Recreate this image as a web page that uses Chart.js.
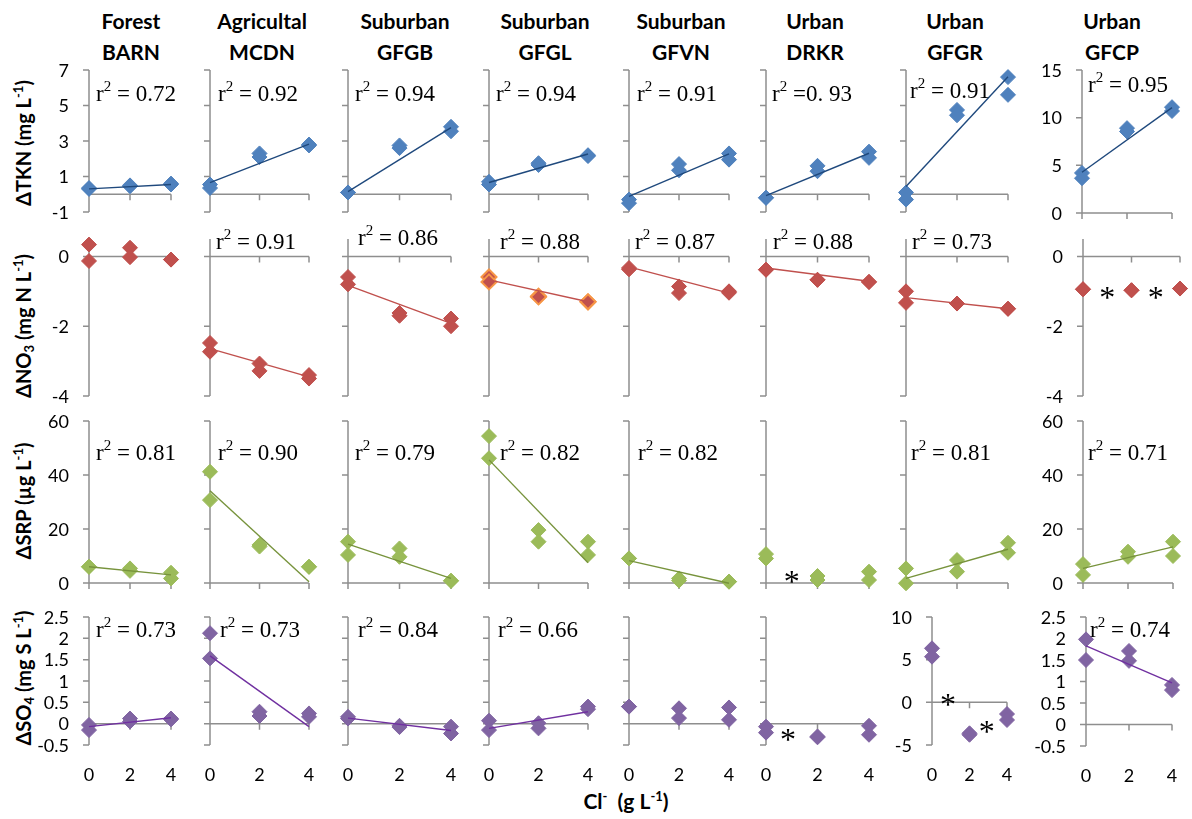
<!DOCTYPE html>
<html>
<head>
<meta charset="utf-8">
<script src="https://cdn.jsdelivr.net/npm/chart.js"></script>
<style>
  body { margin: 0; background: #fff; }
  #wrap { position: relative; width: 1192px; height: 819px; overflow: hidden; background: #fff; font-family: Lato, "Open Sans", sans-serif; }
  #wrap canvas { position: absolute; }
  .ct { position: absolute; width: 150px; margin-left: -75px; text-align: center; font: bold 21px Lato, sans-serif; line-height: 31px; top: 5px; color: #000; }
  .yt { position: absolute; white-space: nowrap; font: bold 20px Lato, sans-serif; color: #000; transform: translate(-50%, -50%) rotate(-90deg); }
  .xt { position: absolute; white-space: nowrap; font: bold 21px Lato, sans-serif; color: #000; transform: translate(-50%, -50%); }
  sup, sub { font-size: 13px; line-height: 0; }
  sup { vertical-align: 8px; }
  sub { vertical-align: -3px; }
</style>
</head>
<body>
<div id="wrap"></div>
<script>
// ---- data ----
const landUse = ['Forest', 'Agricultal', 'Suburban', 'Suburban', 'Suburban', 'Urban', 'Urban', 'Urban'];
const sites = ['BARN', 'MCDN', 'GFGB', 'GFGL', 'GFVN', 'DRKR', 'GFGR', 'GFCP'];
const doseX = [0, 0, 2, 2, 4, 4];   // Cl- dose for each replicate
const xTicks = [0, 2, 4];
const fitX = [0, 4];

// ΔTKN (mg L-1)
const tkn = [
  [0.3, 0.35, 0.45, 0.5, 0.55, 0.6],
  [0.55, 0.35, 2.3, 2.1, 2.8, 2.75],
  [0.1, 0.1, 2.75, 2.6, 3.8, 3.55],
  [0.55, 0.7, 1.75, 1.65, 2.2, 2.15],
  [-0.3, -0.5, 1.7, 1.35, 2.3, 1.95],
  [-0.2, -0.2, 1.6, 1.3, 2.4, 2.05],
  [0.1, -0.3, 4.75, 4.45, 6.6, 5.6],
  [4.2, 3.65, 8.9, 8.55, 11.1, 10.7]
];
const tknFit = [[0.3, 0.55], [0.65, 2.82], [0.15, 3.75], [0.66, 2.27], [-0.12, 2.28], [-0.08, 2.31], [0.44, 6.62], [4.27, 11.05]];
const tknR2 = [' = 0.72', ' = 0.92', ' = 0.94', ' = 0.94', ' = 0.91', ' =0. 93', ' = 0.91', ' = 0.95'];

// ΔNO3 (mg N L-1)
const no3 = [
  [0.34, -0.13, 0.25, -0.02, -0.09, -0.09],
  [-2.48, -2.73, -3.07, -3.28, -3.4, -3.5],
  [-0.59, -0.8, -1.62, -1.7, -1.78, -2.0],
  [-0.59, -0.73, -1.14, -1.16, -1.3, -1.3],
  [-0.33, -0.37, -0.86, -1.05, -1.0, -1.04],
  [-0.38, -0.38, -0.67, -0.67, -0.73, -0.73],
  [-1.0, -1.33, -1.35, -1.35, -1.5, -1.5],
  [-0.94, -0.94, -0.97, -0.97, -0.92, -0.92]
];
const no3Fit = [null, [-2.64, -3.45], [-0.83, -1.92], [-0.67, -1.3], [-0.3, -1.05], [-0.33, -0.71], [-1.18, -1.5], null];
const no3R2 = [null, ' = 0.91', ' = 0.86', ' = 0.88', ' = 0.87', ' = 0.88', ' = 0.73', null];

// ΔSRP (µg L-1)
const srp = [
  [6.0, 6.0, 5.4, 4.5, 3.8, 1.7],
  [41.2, 30.7, 14.1, 13.5, 6.0, 6.0],
  [15.3, 10.4, 12.8, 9.7, 0.8, 0.8],
  [54.4, 46.2, 19.6, 15.3, 15.3, 10.4],
  [9.1, 9.1, 1.7, 0.9, 0.5, 0.5],
  [10.7, 9.1, 2.6, 1.1, 4.2, 1.1],
  [5.4, -0.1, 8.5, 4.2, 14.9, 11.2],
  [7.0, 3.0, 11.6, 9.7, 15.3, 10.0]
];
const srpFit = [[6.0, 3.0], [34.2, 0.5], [14.4, 1.7], [45.6, 7.5], [8.3, -0.1], null, [1.7, 12.5], [5.4, 13.4]];
const srpR2 = [' = 0.81', ' = 0.90', ' = 0.79', ' = 0.82', ' = 0.82', null, ' = 0.81', ' = 0.71'];

// ΔSO4 (mg S L-1)
const so4 = [
  [-0.03, -0.15, 0.12, 0.05, 0.12, 0.1],
  [2.12, 1.53, 0.28, 0.18, 0.24, 0.16],
  [0.16, 0.12, -0.05, -0.08, -0.07, -0.23],
  [0.07, -0.15, 0.01, -0.11, 0.4, 0.34],
  [0.4, 0.4, 0.36, 0.13, 0.38, 0.09],
  [-0.07, -0.21, -0.3, -0.32, -0.05, -0.26],
  [6.33, 5.35, -3.63, -3.8, -1.37, -2.07],
  [1.98, 1.5, 1.71, 1.48, 0.92, 0.8]
];
const so4Fit = [[-0.07, 0.14], [1.59, -0.07], [0.13, -0.16], [-0.11, 0.28], null, null, null, [1.83, 0.97]];
const so4R2 = [' = 0.73', ' = 0.73', ' = 0.84', ' = 0.66', null, null, null, ' = 0.74'];

// asterisk markers [row, col, x, y]
const stars = [[1, 7, 1, -1.0], [1, 7, 3, -1.0], [2, 5, 1, 3], [3, 5, 0.85, -0.22], [3, 6, 0.85, 0.47], [3, 6, 2.92, -2.66]];

// axis ranges and ticks
const tknTicks = [-1, 1, 3, 5, 7];
const tknTicksCP = [0, 5, 10, 15];
const no3Ticks = [-4, -2, 0];
const srpTicks = [0, 20, 40, 60];
const so4Ticks = [-0.5, 0, 0.5, 1, 1.5, 2, 2.5];
const so4TicksGR = [-5, 0, 5, 10];

// ---- layout / style ----
const AXIS = '#8e8e8e';
const colL = [89, 210, 348, 489, 629, 766, 906, 1082];
const colR = [171, 309, 451, 588, 729, 869, 1008, 1172];
const titleX = [131, 262, 405, 545, 681, 815, 955, 1112];
const rows = [
  { vals: tkn, fits: tknFit, r2: tknR2, fill: '#4F81BD', line: '#1F497D', T: 70, B: 212, min: -1, max: 7, ticks: tknTicks,
    r2Pos: [[96, 101], [218, 101], [355, 101], [496, 101], [637, 101], [772, 101], [910, 98], [1088, 92]] },
  { vals: no3, fits: no3Fit, r2: no3R2, fill: '#C0504D', line: '#C0504D', T: 238.5, B: 396, min: -4, max: 0.5, ticks: no3Ticks,
    r2Pos: [null, [216, 248], [358, 244], [500, 248], [635, 248], [773, 248], [912, 248], null] },
  { vals: srp, fits: srpFit, r2: srpR2, fill: '#9BBB59', line: '#77933C', T: 421, B: 583, min: 0, max: 60, ticks: srpTicks,
    r2Pos: [[96, 460], [218, 460], [355, 460], [500, 460], [638, 460], null, [911, 460], [1088, 460]] },
  { vals: so4, fits: so4Fit, r2: so4R2, fill: '#8064A2', line: '#7030A0', T: 617, B: 745, min: -0.5, max: 2.5, ticks: so4Ticks,
    r2Pos: [[96, 637], [220, 637], [358, 637], [498, 637], null, null, null, [1090, 637]] }
];

function panelSpec(r, c) {
  const row = rows[r];
  const s = { L: colL[c], R: colR[c], T: row.T, B: row.B, min: row.min, max: row.max, ticks: row.ticks,
              labels: c === 0 || c === 7, xLabels: r === 3 };
  if (r === 0 && c === 7) { s.min = 0; s.max = 15; s.ticks = tknTicksCP; s.B = 213; }
  if (r === 1 && c === 7) { s.L = 1083; s.R = 1180; }
  if (r === 2 && c === 7) { s.L = 1083; s.R = 1173; }
  if (r === 3 && c === 6) { s.L = 932; s.R = 1007; s.min = -5; s.max = 10; s.ticks = so4TicksGR; s.labels = true; }
  if (r === 3 && c === 7) { s.L = 1086; s.B = 746; }
  return s;
}

const PAD = { left: 80, top: 50, right: 30, bottom: 70 };

function panelPlugin(r, c, s, left, top) {
  const row = rows[r];
  return {
    id: 'excelPanel',
    beforeDatasetsDraw(chart) {
      const { ctx } = chart;
      const x = chart.scales.x, y = chart.scales.y;
      const x0 = x.getPixelForValue(0), x4 = x.getPixelForValue(4);
      const yc = y.getPixelForValue(0);
      ctx.save();
      ctx.strokeStyle = AXIS;
      ctx.lineWidth = 1.5;
      ctx.beginPath();
      ctx.moveTo(x0, y.getPixelForValue(s.min));
      ctx.lineTo(x0, y.getPixelForValue(s.max));
      s.ticks.forEach(t => { const py = y.getPixelForValue(t); ctx.moveTo(x0 - 6, py); ctx.lineTo(x0, py); });
      ctx.moveTo(x0, yc);
      ctx.lineTo(x4, yc);
      xTicks.forEach(t => { const px = x.getPixelForValue(t); ctx.moveTo(px, yc); ctx.lineTo(px, yc + 6); });
      ctx.stroke();
      ctx.fillStyle = '#000';
      ctx.font = '18px Lato';
      if (s.labels) {
        ctx.textAlign = 'right';
        ctx.textBaseline = 'middle';
        s.ticks.forEach(t => ctx.fillText(String(t), x0 - 20, y.getPixelForValue(t) + 1));
      }
      if (s.xLabels) {
        ctx.textAlign = 'center';
        ctx.textBaseline = 'middle';
        xTicks.forEach(t => ctx.fillText(String(t), x.getPixelForValue(t), chart.chartArea.bottom + 30));
      }
      ctx.restore();
    },
    afterDatasetsDraw(chart) {
      const { ctx } = chart;
      ctx.save();
      ctx.fillStyle = '#000';
      ctx.textAlign = 'left';
      ctx.textBaseline = 'alphabetic';
      const txt = row.r2[c], pos = row.r2Pos[c];
      if (txt && pos) {
        const px = pos[0] - left, py = pos[1] - top;
        ctx.font = '23px "Liberation Serif"';
        ctx.fillText('r', px, py);
        const w1 = ctx.measureText('r').width;
        ctx.font = '15px "Liberation Serif"';
        ctx.fillText('2', px + w1, py - 10);
        const w2 = ctx.measureText('2').width;
        ctx.font = '23px "Liberation Serif"';
        ctx.fillText(txt, px + w1 + w2, py);
      }
      ctx.font = '32px "Liberation Serif"';
      ctx.textAlign = 'center';
      stars.filter(st => st[0] === r && st[1] === c).forEach(st => {
        ctx.fillText('*', chart.scales.x.getPixelForValue(st[2]), chart.scales.y.getPixelForValue(st[3]) + 17);
      });
      ctx.restore();
    }
  };
}

function build() {
  const wrap = document.getElementById('wrap');

  landUse.forEach((lu, c) => {
    const d = document.createElement('div');
    d.className = 'ct';
    d.style.left = titleX[c] + 'px';
    d.innerHTML = lu + '<br>' + sites[c];
    wrap.appendChild(d);
  });

  const yTitles = [
    ['ΔTKN (mg L<sup>-1</sup>)', 143],
    ['ΔNO<sub>3</sub> (mg N L<sup>-1</sup>)', 326],
    ['ΔSRP (µg L<sup>-1</sup>)', 501],
    ['ΔSO<sub>4</sub> (mg S L<sup>-1</sup>)', 678]
  ];
  yTitles.forEach(([html, cy]) => {
    const d = document.createElement('div');
    d.className = 'yt';
    d.style.left = '23px';
    d.style.top = cy + 'px';
    d.innerHTML = html;
    wrap.appendChild(d);
  });
  const xt = document.createElement('div');
  xt.className = 'xt';
  xt.style.left = '626px';
  xt.style.top = '800px';
  xt.innerHTML = 'Cl<sup>-</sup>&nbsp;&nbsp;(g L<sup>-1</sup>)';
  wrap.appendChild(xt);

  rows.forEach((row, r) => {
    for (let c = 0; c < 8; c++) {
      const s = panelSpec(r, c);
      const left = s.L - PAD.left, top = s.T - PAD.top;
      const w = (s.R - s.L) + PAD.left + PAD.right;
      const h = (s.B - s.T) + PAD.top + PAD.bottom;
      const cv = document.createElement('canvas');
      cv.width = w; cv.height = h;
      cv.style.left = left + 'px'; cv.style.top = top + 'px';
      cv.style.width = w + 'px'; cv.style.height = h + 'px';
      wrap.appendChild(cv);

      const orangeEdge = r === 1 && c === 3;
      const datasets = [];
      if (row.fits[c]) {
        datasets.push({
          data: fitX.map((x, i) => ({ x, y: row.fits[c][i] })),
          showLine: true, borderColor: row.line, borderWidth: 1.4,
          pointRadius: 0, clip: false, order: 0
        });
      }
      datasets.push({
        data: doseX.map((x, i) => ({ x, y: row.vals[c][i] })),
        showLine: false, pointStyle: 'rectRot', pointRadius: 7.5,
        backgroundColor: row.fill, borderColor: orangeEdge ? '#F79646' : row.fill,
        borderWidth: orangeEdge ? 2 : 1, clip: false, order: 1
      });

      new Chart(cv, {
        type: 'scatter',
        data: { datasets },
        options: {
          responsive: false,
          animation: false,
          devicePixelRatio: 1,
          events: [],
          layout: { padding: PAD },
          scales: {
            x: { type: 'linear', min: 0, max: 4, display: false },
            y: { type: 'linear', min: s.min, max: s.max, display: false }
          },
          plugins: { legend: { display: false }, tooltip: { enabled: false } }
        },
        plugins: [panelPlugin(r, c, s, left, top)]
      });
    }
  });
}

Promise.all([
  document.fonts.load('18px Lato'),
  document.fonts.load('bold 20px Lato'),
  document.fonts.load('23px "Liberation Serif"')
]).then(build, build);
</script>
</body>
</html>
